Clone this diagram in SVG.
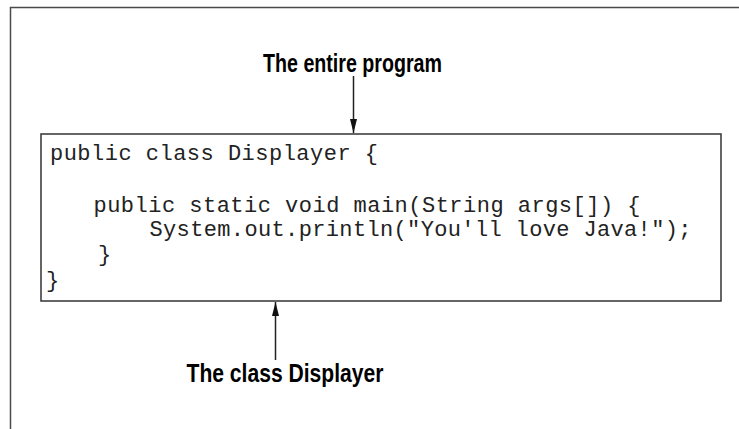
<svg xmlns="http://www.w3.org/2000/svg" width="739" height="429" viewBox="0 0 739 429">
<style>
.frame{fill:none;stroke:#4a4a4a;stroke-width:1.5}
.box{fill:#fff;stroke:#333;stroke-width:1.5}
.code{font-family:"Liberation Mono","Courier New",monospace;font-size:22px;fill:#222}
.label{font-family:"Liberation Sans",Arial,sans-serif;font-weight:bold;font-size:25px;fill:#000}
.conn{stroke:#222;stroke-width:1.5;fill:none}
</style>
<defs>
<marker id="ah" viewBox="0 0 14 7" refX="14" refY="3.5" markerWidth="14" markerHeight="7" markerUnits="userSpaceOnUse" orient="auto">
<path d="M0,0 L14,3.5 L0,7 Z" fill="#111"/>
</marker>
</defs>
<rect width="739" height="429" fill="#fff"/>
<path class="frame" d="M10.5,429 V7.5 H739"/>
<g id="program">
<rect class="box" x="41" y="134" width="680" height="167"/>
<text class="code" x="50" y="160" textLength="328" lengthAdjust="spacing">public class Displayer {</text>
<text class="code" x="93.5" y="212" textLength="547" lengthAdjust="spacing">public static void main(String args[]) {</text>
<text class="code" x="149.5" y="236" textLength="542" lengthAdjust="spacing">System.out.println("You'll love Java!");</text>
<text class="code" x="98" y="261">}</text>
<text class="code" x="46" y="287">}</text>
</g>
<g id="label-program">
<text class="label" x="263" y="72" textLength="179" lengthAdjust="spacingAndGlyphs">The entire program</text>
</g>
<g id="label-class">
<text class="label" x="186.5" y="382" textLength="197" lengthAdjust="spacingAndGlyphs">The class Displayer</text>
</g>
<g id="connectors">
<line class="conn" x1="353.5" y1="76" x2="353.5" y2="133" marker-end="url(#ah)"/>
<line class="conn" x1="275.5" y1="360" x2="275.5" y2="302" marker-end="url(#ah)"/>
</g>
</svg>
